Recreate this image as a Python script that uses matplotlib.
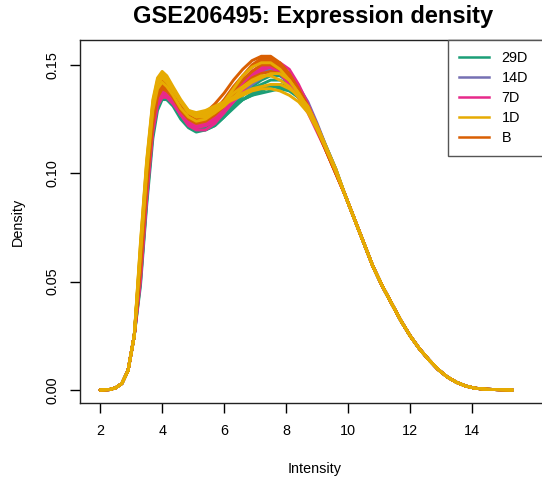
import matplotlib
matplotlib.use("Agg")
import matplotlib.pyplot as plt
from matplotlib.lines import Line2D

plt.rcParams['font.family'] = ['Liberation Sans', 'DejaVu Sans']

# x grid split in three parts: head and tail are shared by all samples,
# the middle part is read per sample
x_head = [2.0, 2.3, 2.5, 2.7, 2.9, 3.1]
y_head = [0.0, 0.0002, 0.001, 0.003, 0.009, 0.025]
x_mid = [3.3, 3.5, 3.7, 3.85, 4.0, 4.15, 4.35, 4.6, 4.85, 5.1, 5.4, 5.7, 6.0,
         6.3, 6.6, 6.9, 7.2, 7.5, 7.8, 8.1, 8.4, 8.7, 9.0, 9.3, 9.6]
x_tail = [9.9, 10.2, 10.5, 10.8, 11.1, 11.4, 11.7, 12.0, 12.3, 12.6, 12.9,
          13.2, 13.5, 13.8, 14.1, 14.5, 15.3]
y_tail = [0.090, 0.079, 0.068, 0.057, 0.048, 0.040, 0.032, 0.025, 0.019, 0.014,
          0.0095, 0.006, 0.0035, 0.0018, 0.0008, 0.0003, 0.0]

groups = ['29D', '14D', '7D', '1D', 'B']
colors = {'29D': '#1B9E77', '14D': '#7570B3', '7D': '#E7298A', '1D': '#E6AB02', 'B': '#D95F02'}

mid_29D = [
    [.057, .094, .122, .132, .135, .134, .131, .125, .121, .119, .120, .122, .126, .130, .134, .137, .139, .140, .140, .139, .135, .129, .120, .111, .101],
    [.050, .087, .119, .132, .138, .138, .134, .128, .123, .121, .122, .124, .128, .132, .136, .139, .141, .143, .143, .141, .136, .130, .121, .111, .101],
    [.058, .096, .126, .137, .140, .139, .135, .129, .124, .121, .121, .123, .127, .131, .134, .136, .138, .140, .141, .140, .137, .131, .122, .112, .102],
    [.064, .102, .129, .137, .139, .137, .133, .127, .123, .120, .120, .122, .126, .131, .136, .140, .143, .145, .145, .142, .137, .130, .121, .111, .101],
    [.048, .085, .116, .129, .134, .134, .132, .127, .123, .122, .123, .125, .128, .131, .134, .136, .137, .138, .139, .138, .135, .130, .122, .112, .102],
]
mid_14D = [
    [.056, .094, .124, .135, .139, .138, .134, .129, .125, .123, .124, .126, .130, .135, .140, .144, .147, .149, .149, .146, .140, .132, .122, .111, .101],
    [.062, .100, .129, .139, .142, .140, .136, .130, .126, .124, .125, .128, .133, .138, .142, .145, .147, .148, .146, .143, .137, .130, .121, .111, .101],
    [.052, .090, .121, .133, .137, .137, .134, .128, .124, .122, .123, .125, .129, .133, .137, .141, .144, .146, .147, .145, .140, .133, .123, .112, .102],
    [.060, .098, .127, .138, .141, .140, .136, .131, .127, .125, .126, .128, .131, .135, .139, .143, .146, .148, .148, .145, .139, .131, .121, .111, .101],
    [.054, .092, .123, .134, .138, .137, .134, .128, .124, .123, .124, .127, .131, .136, .141, .145, .148, .150, .149, .146, .140, .132, .122, .111, .101],
]
mid_7D = [
    [.055, .093, .123, .134, .137, .136, .133, .127, .123, .121, .122, .125, .130, .136, .142, .146, .149, .150, .149, .145, .138, .130, .120, .110, .100],
    [.050, .088, .119, .131, .135, .135, .132, .127, .123, .122, .123, .126, .132, .138, .143, .147, .150, .151, .150, .146, .139, .131, .121, .110, .100],
    [.060, .098, .127, .137, .140, .139, .135, .129, .125, .123, .124, .127, .131, .136, .141, .145, .148, .149, .147, .143, .137, .130, .121, .111, .101],
    [.053, .091, .121, .133, .136, .136, .133, .128, .124, .122, .122, .124, .128, .133, .138, .143, .147, .150, .151, .148, .141, .132, .122, .111, .101],
    [.058, .096, .125, .135, .138, .137, .133, .127, .122, .120, .120, .123, .128, .134, .140, .145, .148, .149, .146, .141, .135, .128, .119, .110, .100],
]
mid_B = [
    [.062, .100, .129, .139, .142, .141, .137, .131, .127, .126, .128, .132, .137, .143, .148, .152, .154, .154, .151, .146, .139, .131, .121, .110, .100],
    [.058, .096, .126, .137, .140, .139, .135, .129, .125, .123, .124, .127, .132, .138, .143, .147, .150, .150, .148, .144, .138, .131, .121, .111, .101],
    [.064, .102, .130, .140, .143, .141, .137, .131, .127, .125, .126, .129, .134, .140, .145, .149, .152, .152, .149, .144, .137, .130, .120, .110, .100],
    [.055, .093, .123, .135, .139, .138, .135, .130, .126, .124, .125, .127, .131, .136, .140, .144, .146, .147, .146, .143, .138, .131, .122, .111, .101],
    [.060, .098, .128, .138, .141, .140, .136, .130, .126, .124, .125, .128, .133, .139, .145, .150, .153, .153, .150, .145, .138, .130, .120, .110, .100],
]
mid_1D = [
    [.068, .106, .134, .144, .147, .145, .140, .134, .129, .127, .128, .130, .132, .134, .136, .138, .139, .139, .138, .136, .133, .128, .120, .111, .102],
    [.066, .104, .132, .142, .145, .143, .139, .133, .128, .126, .127, .129, .133, .137, .140, .143, .145, .145, .143, .140, .135, .129, .121, .111, .101],
    [.064, .102, .131, .141, .144, .142, .138, .133, .129, .128, .129, .131, .133, .135, .137, .139, .140, .141, .141, .139, .136, .131, .122, .112, .102],
    [.062, .100, .129, .139, .142, .140, .136, .130, .126, .124, .125, .128, .133, .139, .145, .149, .151, .151, .148, .143, .137, .130, .121, .111, .101],
    [.067, .105, .133, .143, .146, .144, .139, .133, .128, .126, .126, .128, .131, .135, .139, .142, .144, .146, .146, .143, .137, .130, .121, .111, .101],
]

# drawing order (last drawn ends up on top)
draw_order = [('29D', mid_29D), ('14D', mid_14D), ('7D', mid_7D), ('B', mid_B), ('1D', mid_1D)]

fig = plt.figure(figsize=(5.42, 4.82), dpi=100)
# plot box runs past the right edge of the picture, as in the reference
ax = fig.add_axes([80 / 542, 79 / 482, 500 / 542, 363 / 482])

xs = x_head + x_mid + x_tail
for g, mids in draw_order:
    for m in mids:
        ax.plot(xs, y_head + m + y_tail, color=colors[g], lw=2.1,
                solid_joinstyle='round', solid_capstyle='round')

ax.set_xlim(1.35, 1.35 + 500 / 31)
ax.set_ylim(-0.006, 0.1615)
ax.set_xticks([2, 4, 6, 8, 10, 12, 14])
ax.set_yticks([0.00, 0.05, 0.10, 0.15])
ax.set_yticklabels(['0.00', '0.05', '0.10', '0.15'], rotation=90, va='center')
ax.tick_params(direction='out', length=7, width=1, labelsize=10.4, pad=8)
for s in ax.spines.values():
    s.set_color('#222222')
    s.set_linewidth(1)
ax.spines['right'].set_visible(False)

fig.text(313 / 542, 1 - 17 / 482, 'GSE206495: Expression density', fontsize=17,
         fontweight='bold', ha='center', va='center')
fig.text(315 / 542, 1 - 469 / 482, 'Intensity', fontsize=10.4, ha='center', va='center')
ax.set_ylabel('Density', fontsize=10.4, labelpad=14.5)

handles = [Line2D([0], [0], color=colors[g], lw=1.8) for g in groups]
leg = fig.legend(handles, groups, loc='upper left',
                 bbox_to_anchor=(448 / 542, 0, 110 / 542, 1 - 40 / 482),
                 bbox_transform=fig.transFigure, borderaxespad=0, mode='expand',
                 fancybox=False, edgecolor='#555555', fontsize=10.4, handlelength=2.1,
                 handletextpad=0.85, labelspacing=0.42, borderpad=0.75, framealpha=1)
leg.get_frame().set_linewidth(1)

fig.savefig('out.png', dpi=100)
